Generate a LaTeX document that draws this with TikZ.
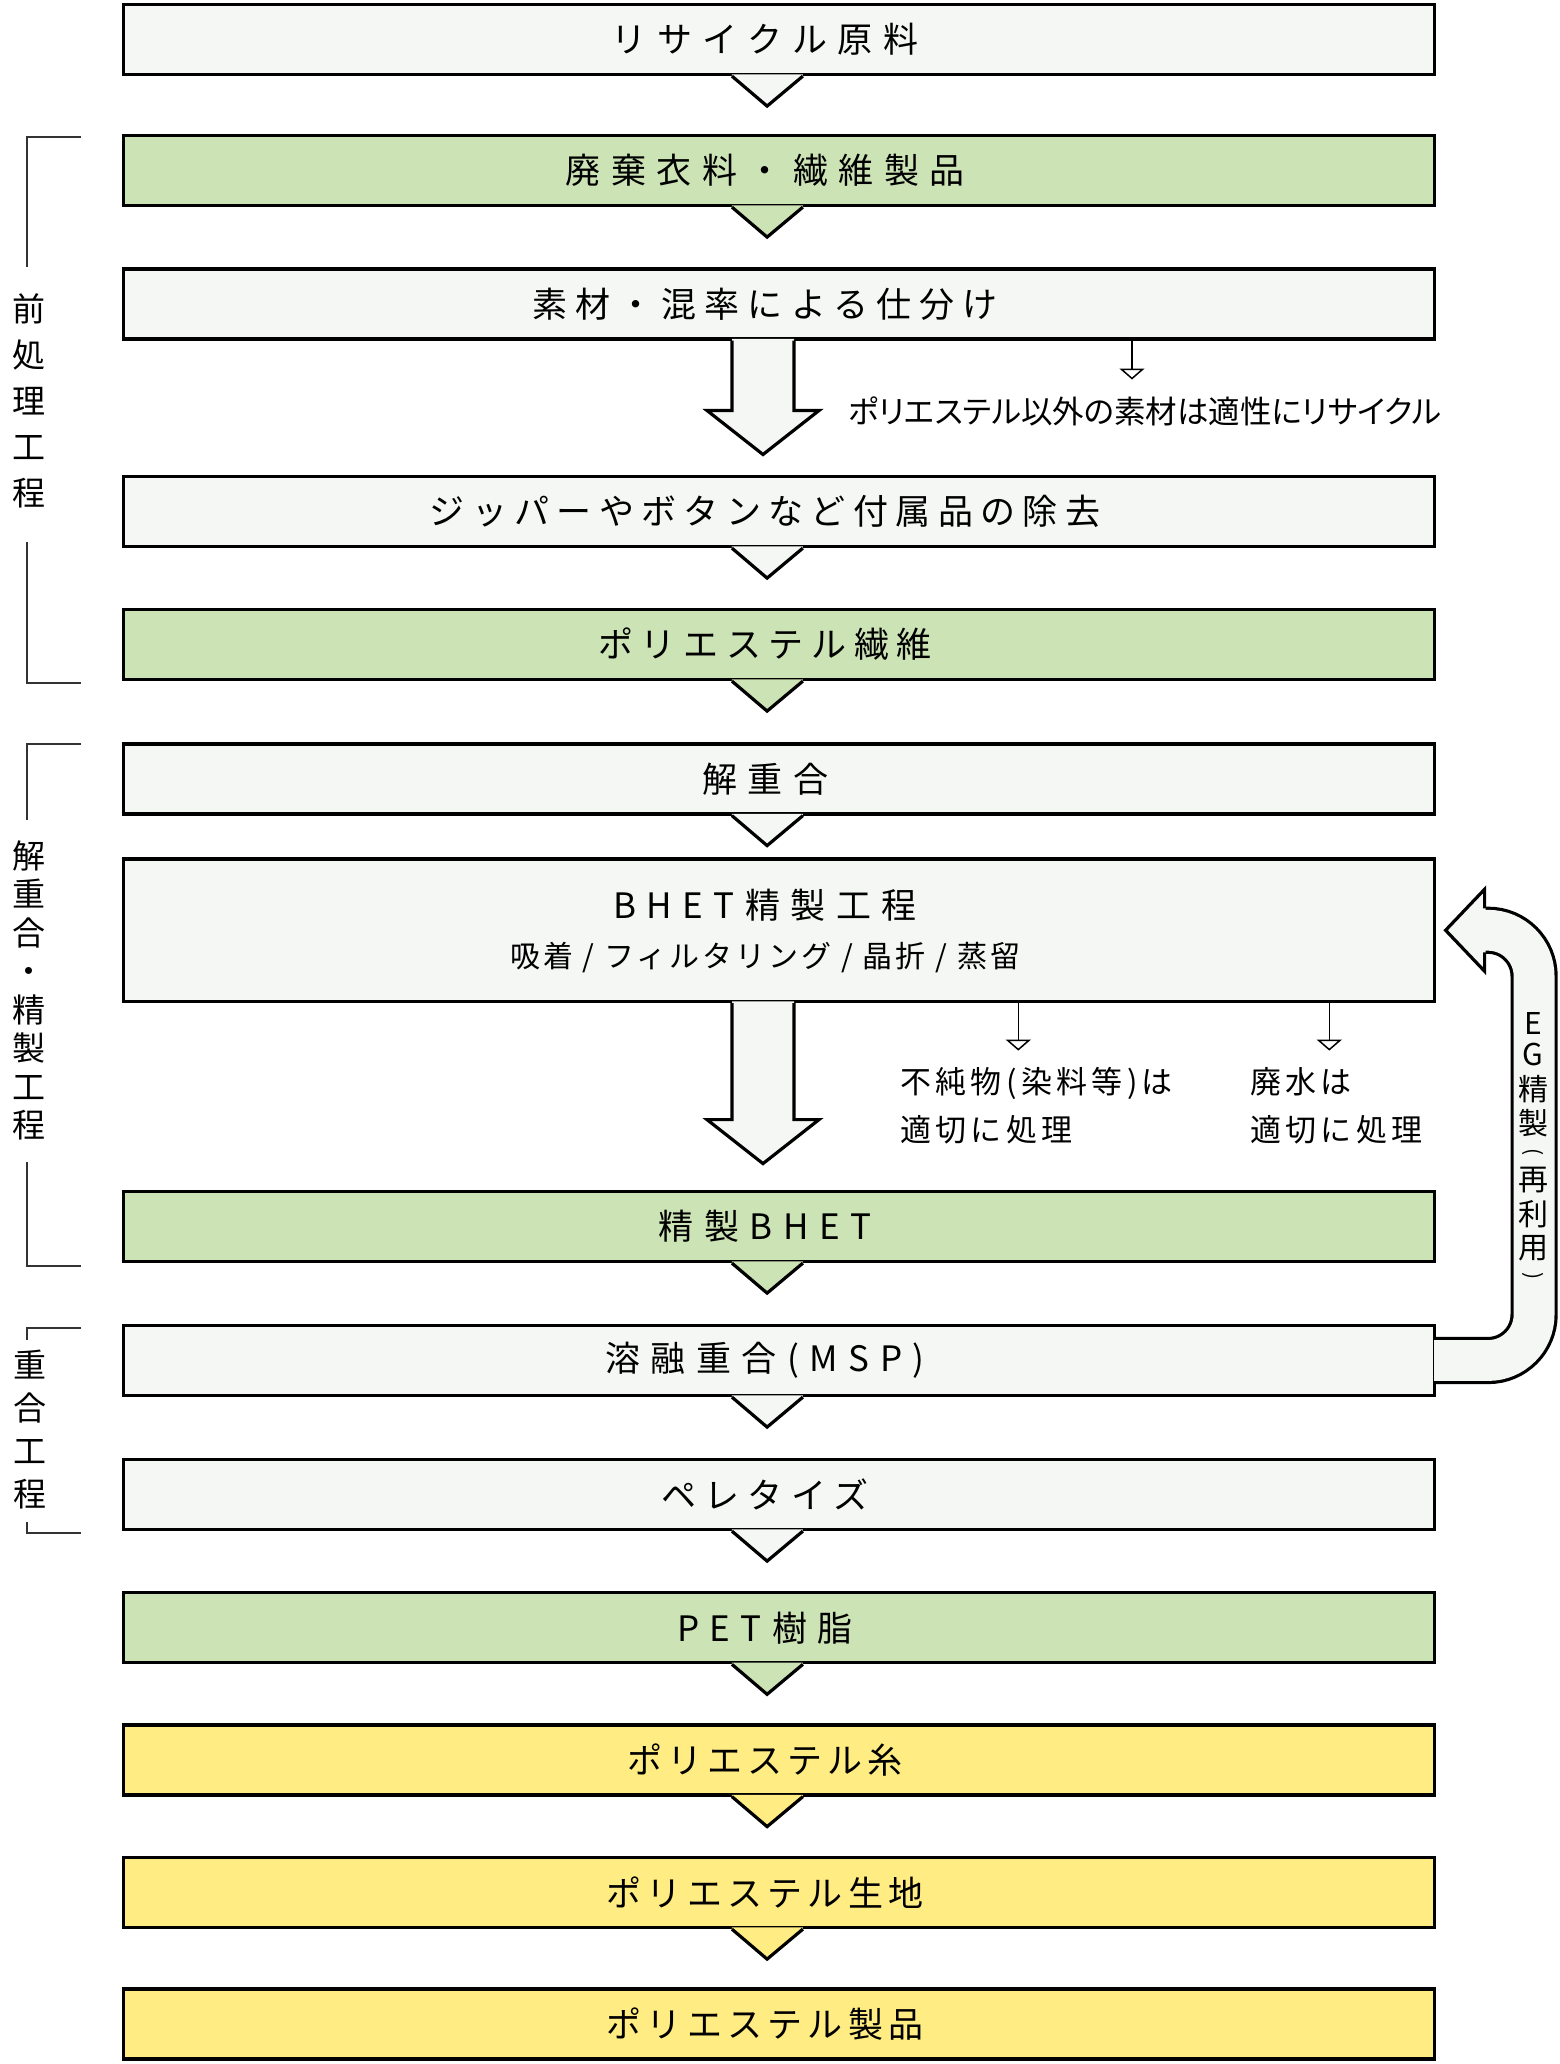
\documentclass[tikz,border=0pt]{standalone}
\usepackage{fontspec}
\setmainfont{Noto Sans CJK JP}
\newfontfamily\jpf{Noto Sans CJK JP}
\newfontfamily\jpt[LetterSpace=30]{Noto Sans CJK JP}
\newfontfamily\jps[LetterSpace=10]{Noto Sans CJK JP}
\newfontfamily\jpn[LetterSpace=14]{Noto Sans CJK JP}
\newfontfamily\jpp[RawFeature=+palt]{Noto Sans CJK JP}
\usetikzlibrary{arrows.meta}
\definecolor{fgray}{HTML}{F5F7F5}
\definecolor{fgreen}{HTML}{CCE3B5}
\definecolor{fyellow}{HTML}{FFEC82}
\definecolor{brk}{HTML}{333333}
\tikzset{
  stepbox/.style={draw=black, line width=3.2pt, rectangle, inner sep=0pt,
    minimum width=1311.2pt, minimum height=70pt},
  ttl/.style={inner sep=0pt, text=black, font=\jpt\fontsize{35}{42}\selectfont},
  ttlk/.style={inner sep=0pt, text=black,
    font=\jpf\fontsize{35}{42}\selectfont\addfontfeatures{LetterSpace=#1}},
  subttl/.style={inner sep=0pt, text=black, font=\jps\fontsize{30}{36}\selectfont},
  note/.style={inner sep=0pt, anchor=west, align=left, text=black,
    font=\jpn\fontsize{31}{48}\selectfont},
  note1/.style={inner sep=0pt, anchor=west, text=black, font=\jpp\fontsize{31.5}{36}\selectfont},
  sidelabel/.style={inner sep=0pt, align=center, text=black},
  eglabel/.style={inner sep=0pt, text=black, font=\jpf\fontsize{30}{32}\selectfont},
  egparen/.style={inner sep=0pt, text=black, rotate=-90, font=\jpf\fontsize{21}{24}\selectfont},
  bracketline/.style={draw=brk, line width=1.7pt},
  smallarrow/.style={line width=1.5pt, -{Triangle[open, width=25pt, length=11pt]}},
  thin outline/.style={line width=3.2pt, line join=miter}
}
\newcommand\fnotch[2]{%
  \begin{scope}[shift={(#1.south)}]
    \fill[#2] (-47,-1.7) -- (24,-1.7) -- (24,0) -- (-11.8,30) -- (-47,0) -- cycle;
    \draw[thin outline] (-47,0) -- (-11.8,30) -- (24,0);
  \end{scope}}
\newcommand\fbigarrow[2]{%
  \begin{scope}[shift={(#1.south)}]
    \fill[fgray] (-46.9,-1.7) -- (15.1,-1.7) -- (15.1,#2) -- (40.1,#2) -- (-15.9,#2+44)
      -- (-71.9,#2) -- (-46.9,#2) -- cycle;
    \draw[thin outline] (-46.9,0) -- (-46.9,#2) -- (-71.9,#2) -- (-15.9,#2+44)
      -- (40.1,#2) -- (15.1,#2) -- (15.1,0);
  \end{scope}}
\begin{document}
\begin{tikzpicture}[x=1pt,y=-1pt]
\useasboundingbox[fill=white] (0,0) rectangle (1560,2064);

% boxes
\node[stepbox, fill=fgray]   (b1)  at (778.9,39.5)  {};
\node[stepbox, fill=fgreen]  (b2)  at (778.9,170.5) {};
\node[stepbox, fill=fgray]   (b3)  at (778.9,303.9) {};
\node[stepbox, fill=fgray]   (b4)  at (778.9,511.5) {};
\node[stepbox, fill=fgreen]  (b5)  at (778.9,644.5) {};
\node[stepbox, fill=fgray]   (b6)  at (778.9,779)   {};
\node[stepbox, fill=fgray, minimum height=142.5pt] (b7) at (778.9,930.25) {};
\node[stepbox, fill=fgreen]  (b8)  at (778.9,1226.5) {};
\node[stepbox, fill=fgray]   (b9)  at (778.9,1360.5) {};
\node[stepbox, fill=fgray]   (b10) at (778.9,1494.5) {};
\node[stepbox, fill=fgreen]  (b11) at (778.9,1627.7) {};
\node[stepbox, fill=fyellow] (b12) at (778.9,1760)  {};
\node[stepbox, fill=fyellow] (b13) at (778.9,1892.5) {};
\node[stepbox, fill=fyellow] (b14) at (778.9,2024)  {};

% connectors: notches
\fnotch{b1}{fgray}
\fnotch{b2}{fgreen}
\fnotch{b4}{fgray}
\fnotch{b5}{fgreen}
\fnotch{b6}{fgray}
\fnotch{b8}{fgreen}
\fnotch{b9}{fgray}
\fnotch{b10}{fgray}
\fnotch{b11}{fgreen}
\fnotch{b12}{fyellow}
\fnotch{b13}{fyellow}

% big arrows
\fbigarrow{b3}{70}
\fbigarrow{b7}{116.5}

% small arrows
\draw[smallarrow] ([xshift=353.1pt]b3.south) -- ++(0,39);
\draw[smallarrow] ([xshift=239.4pt]b7.south) -- ++(0,47.5);
\draw[smallarrow] ([xshift=550.4pt]b7.south) -- ++(0,47.5);

% EG recycle arrow (from b9 back to b7)
\coordinate (egA) at ([xshift=-2pt]b9.east);
\coordinate (egB) at ([xshift=98pt]b9.east);
\coordinate (egC) at ([xshift=98pt]b7.east);
\coordinate (egD) at ([xshift=48.5pt]b7.east);
\coordinate (egT) at ([xshift=9.5pt]b7.east);
\draw[line width=47.2pt, rounded corners=46pt] (egA) -- (egB) -- (egC) -- (egD);
\draw[fgray, line width=40.8pt, rounded corners=46pt] (egA) -- (egB) -- (egC) -- (egD);
\fill[fgray] ([xshift=1pt,yshift=41pt]egD) -- (egT) -- ([xshift=1pt,yshift=-41pt]egD) -- cycle;
\draw[thin outline] ([yshift=22pt]egD) -- ([yshift=41pt]egD) -- (egT)
  -- ([yshift=-41pt]egD) -- ([yshift=-22pt]egD);

% titles
\node[ttl] (t1)  at (765,39.5)  {リサイクル原料};
\node[ttl] (t2)  at (765,170.5) {廃棄衣料・繊維製品};
\node[ttlk=23] (t3)  at (765,303.9) {素材・混率による仕分け};
\node[ttlk=21] (t4)  at (765,511.5) {ジッパーやボタンなど付属品の除去};
\node[ttlk=22] (t5)  at (765,644.5) {ポリエステル繊維};
\node[ttl] (t6)  at (765,779)   {解重合};
\node[ttl] (t7)  at (765,905)   {BHET精製工程};
\node[subttl] (t7b) at (765,958) {吸着 / フィルタリング / 晶折 / 蒸留};
\node[ttl] (t8)  at (765,1226.5) {精製BHET};
\node[ttl] (t9)  at (765,1360.5)  {溶融重合(MSP)};
\node[ttlk=23] (t10) at (765,1494.5) {ペレタイズ};
\node[ttl] (t11) at (765,1627.7) {PET樹脂};
\node[ttlk=14] (t12) at (765,1760)  {ポリエステル糸};
\node[ttlk=15] (t13) at (765,1892.5) {ポリエステル生地};
\node[ttlk=15] (t14) at (765,2024)  {ポリエステル製品};

% notes
\node[note1] (n1) at (848,411) {ポリエステル以外の素材は適性にリサイクル};
\node[note] (n2) at (900,1106) {不純物(染料等)は\\適切に処理};
\node[note] (n3) at (1250,1106) {廃水は\\適切に処理};

% EG label (vertical)
\node[eglabel] (eg1) at (1533,1023) {E};
\node[eglabel] (eg2) at (1533,1054) {G};
\node[eglabel] (eg3) at (1533,1089) {精};
\node[eglabel] (eg4) at (1533,1123) {製};
\node[egparen] (eg5) at (1533,1152) {(};
\node[eglabel] (eg6) at (1533,1180) {再};
\node[eglabel] (eg7) at (1533,1214) {利};
\node[eglabel] (eg8) at (1533,1248) {用};
\node[egparen] (eg9) at (1533,1276) {)};

% side brackets
\node[sidelabel, font=\jpf\fontsize{33}{46}\selectfont] (s1) at (29,400.5)
  {前\\処\\理\\工\\程};
\node[sidelabel, font=\jpf\fontsize{33}{38.5}\selectfont] (s2) at (29,990.5)
  {解\\重\\合\\・\\精\\製\\工\\程};
\node[sidelabel, font=\jpf\fontsize{33}{43}\selectfont] (s3) at (30,1430)
  {重\\合\\工\\程};
\draw[bracketline] (81,137) -- (27,137) -- (27,267);
\draw[bracketline] (27,542) -- (27,683) -- (81,683);
\draw[bracketline] (81,744) -- (27,744) -- (27,820);
\draw[bracketline] (27,1162) -- (27,1266) -- (81,1266);
\draw[bracketline] (81,1328) -- (27,1328) -- (27,1340);
\draw[bracketline] (27,1522) -- (27,1533) -- (81,1533);
\end{tikzpicture}
\end{document}
